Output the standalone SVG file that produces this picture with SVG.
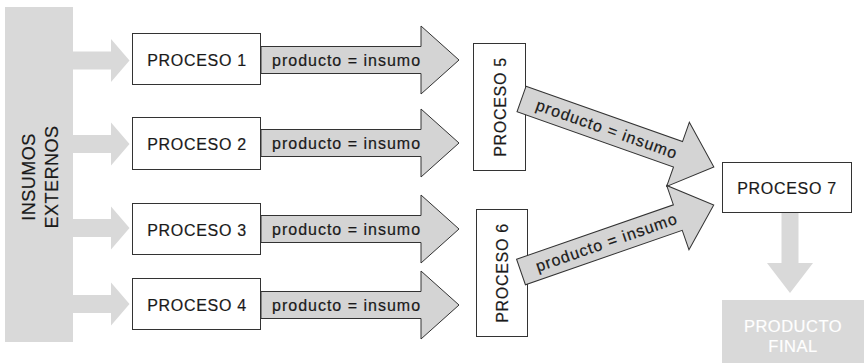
<svg xmlns="http://www.w3.org/2000/svg" width="864" height="363" viewBox="0 0 864 363">
<style>
  .lt { fill: #d9d9d9; }
  .box { fill: #ffffff; stroke: #333333; stroke-width: 1; }
  .pa { fill: #d4d4d4; stroke: #333333; stroke-width: 1; stroke-linejoin: miter; }
  .t { font-family: "Liberation Sans", Arial, sans-serif; fill: #1a1a1a; stroke: #1a1a1a; stroke-width: 0.2px; }
  .pt { font-size: 16px; letter-spacing: 0.7px; text-anchor: middle; }
  .lbl { font-size: 16px; letter-spacing: 1px; }
  .big { font-size: 18px; letter-spacing: 0.5px; text-anchor: middle; }
  .wt { font-family: "Liberation Sans", Arial, sans-serif; fill: #ffffff; stroke: #ffffff; stroke-width: 0.2px; font-size: 16.5px; letter-spacing: 0.5px; text-anchor: middle; }
</style>
<defs>
  <path id="inArrow" d="M0,-9 H38 V-21.5 L56.5,0 L38,21.5 V9 H0 Z"/>
  <path id="hArrow" d="M0,-13.5 H160 V-34 L198,0 L160,34 V13.5 H0 Z"/>
  <path id="dArrow" d="M0,-13.5 H166 V-34 L204,0 L166,34 V13.5 H0 Z"/>
</defs>
<rect width="864" height="363" fill="#ffffff"/>

<g id="insumos-externos">
  <rect class="lt" x="5" y="7" width="68" height="335"/>
  <text class="t big" transform="translate(35,177) rotate(-90)">INSUMOS</text>
  <text class="t big" transform="translate(58,177) rotate(-90)">EXTERNOS</text>
</g>

<g id="proceso-1">
  <rect class="box" x="132.5" y="33.5" width="128" height="51"/>
  <text class="t pt" x="197" y="65.5">PROCESO 1</text>
</g>
<g id="proceso-2">
  <rect class="box" x="132.5" y="117.5" width="128" height="52"/>
  <text class="t pt" x="197" y="150">PROCESO 2</text>
</g>
<g id="proceso-3">
  <rect class="box" x="132.5" y="203.5" width="128" height="51"/>
  <text class="t pt" x="197" y="235.5">PROCESO 3</text>
</g>
<g id="proceso-4">
  <rect class="box" x="132.5" y="278.5" width="128" height="51"/>
  <text class="t pt" x="197" y="310.5">PROCESO 4</text>
</g>
<g id="proceso-5">
  <rect class="box" x="473.5" y="43.5" width="52" height="127"/>
  <text class="t pt" transform="translate(506,107) rotate(-90)">PROCESO 5</text>
</g>
<g id="proceso-6">
  <rect class="box" x="476.5" y="209.5" width="51" height="127"/>
  <text class="t pt" transform="translate(507.5,273) rotate(-90)">PROCESO 6</text>
</g>
<g id="proceso-7">
  <rect class="box" x="722.5" y="162.5" width="129" height="50"/>
  <text class="t pt" x="787" y="193.5">PROCESO 7</text>
</g>
<g id="producto-final">
  <rect class="lt" x="722" y="300" width="142" height="63"/>
  <text class="wt" x="793" y="332">PRODUCTO</text>
  <text class="wt" x="793" y="352">FINAL</text>
</g>

<g id="connectors">
  <use href="#inArrow" class="lt" transform="translate(73,60.5)"/>
  <use href="#inArrow" class="lt" transform="translate(73,144)"/>
  <use href="#inArrow" class="lt" transform="translate(73,228)"/>
  <use href="#inArrow" class="lt" transform="translate(73,304)"/>

  <g transform="translate(261,60)"><use href="#hArrow" class="pa"/><text class="t lbl" x="11" y="5.5">producto = insumo</text></g>
  <g transform="translate(261,143)"><use href="#hArrow" class="pa"/><text class="t lbl" x="11" y="5.5">producto = insumo</text></g>
  <g transform="translate(261,229)"><use href="#hArrow" class="pa"/><text class="t lbl" x="11" y="5.5">producto = insumo</text></g>
  <g transform="translate(261,305)"><use href="#hArrow" class="pa"/><text class="t lbl" x="11" y="5.5">producto = insumo</text></g>

  <g transform="translate(521.5,99) rotate(19.46)"><use href="#dArrow" class="pa"/><text class="t lbl" x="16" y="5.5">producto = insumo</text></g>
  <g transform="translate(521,272) rotate(-19.14)"><use href="#dArrow" class="pa"/><text class="t lbl" x="16" y="5.5">producto = insumo</text></g>

  <path class="lt" transform="translate(790,213) rotate(90)" d="M0,-8.5 H50 V-23 L80,0 L50,23 V8.5 H0 Z"/>
</g>
</svg>
